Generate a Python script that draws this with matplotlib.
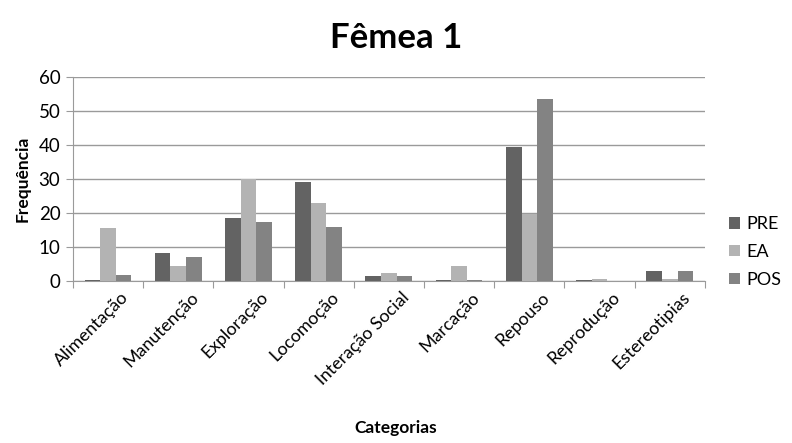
import matplotlib.pyplot as plt
import matplotlib.transforms as mtransforms
import numpy as np

plt.rcParams['font.family'] = ['Lato', 'DejaVu Sans']

categorias = ["Alimentação", "Manutenção", "Exploração", "Locomoção",
              "Interação Social", "Marcação", "Repouso", "Reprodução",
              "Estereotipias"]
pre = [0.3, 8.3, 18.6, 29.0, 1.3, 0.3, 39.4, 0.3, 2.8]
ea = [15.5, 4.3, 30.0, 22.9, 2.2, 4.3, 19.6, 0.6, 0.6]
pos = [1.8, 7.0, 17.4, 15.9, 1.3, 0.3, 53.4, 0.0, 3.0]

series = [("PRE", pre, "#636363"), ("EA", ea, "#b3b3b3"), ("POS", pos, "#838383")]

fig = plt.figure(figsize=(7.92, 4.43), dpi=100)
ax = fig.add_axes([0.092, 0.366, 0.798, 0.46])

x = np.arange(len(categorias))
w = 0.222
for i, (nome, vals, cor) in enumerate(series):
    ax.bar(x + (i - 1) * w, vals, w, color=cor, label=nome, zorder=3)

ax.set_xlim(-0.5, len(categorias) - 0.5)
ax.set_ylim(0, 60)
ax.set_yticks(range(0, 61, 10))
ax.yaxis.grid(True, color="#9a9a9a", linewidth=1.0, zorder=0)

# category boundary ticks on x, labels centred on groups
ax.set_xticks(np.arange(-0.5, len(categorias) + 0.5, 1))
ax.set_xticklabels([])
ax.set_xticks(x, minor=True)
ax.set_xticklabels(categorias, minor=True, rotation=45, ha="right",
                   rotation_mode="anchor", fontsize=12.8)
ax.tick_params(axis="x", which="minor", length=0, pad=6)
ax.tick_params(axis="x", which="major", length=5, color="#9a9a9a", direction="out")
ax.tick_params(axis="y", length=5, color="#9a9a9a", labelsize=13.5, pad=4)

# nudge rotated labels so they end just right of each group centre
shift = mtransforms.ScaledTranslation(12 / 100, 0, fig.dpi_scale_trans)
for lbl in ax.get_xticklabels(minor=True):
    lbl.set_transform(lbl.get_transform() + shift)

for s in ["top", "right"]:
    ax.spines[s].set_visible(False)
for s in ["left", "bottom"]:
    ax.spines[s].set_color("#9a9a9a")

ax.set_ylabel("Frequência", fontsize=12.5, fontweight="bold", labelpad=6)
fig.text(0.5, 0.015, "Categorias", ha="center", va="bottom",
         fontsize=12.5, fontweight="bold")
fig.text(0.5, 0.915, "Fêmea 1", ha="center", va="center",
         fontsize=25, fontweight="bold")

ax.legend(loc="center left", bbox_to_anchor=(1.012, 0.142), frameon=False,
          fontsize=13, handlelength=0.6, handleheight=0.6, labelspacing=0.65,
          handletextpad=0.4)

fig.savefig("out.png", dpi=100)
